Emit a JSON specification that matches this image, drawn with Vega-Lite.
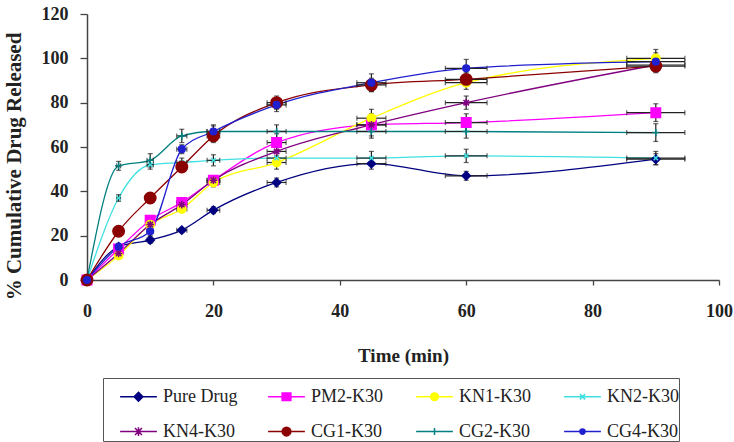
{
  "$schema": "https://vega.github.io/schema/vega-lite/v6.json",
  "width": 632,
  "height": 266,
  "autosize": {"type": "none"},
  "padding": {"left": 87, "top": 14, "right": 15, "bottom": 162},
  "background": "white",
  "config": {
    "view": {"stroke": null},
    "axis": {
      "grid": false,
      "labelFlush": false,
      "domainColor": "#444",
      "domainWidth": 1.5,
      "tickColor": "#444",
      "tickWidth": 1.3,
      "labelFont": "Liberation Serif",
      "labelFontWeight": "bold",
      "labelFontSize": 18,
      "labelColor": "#222",
      "titleFont": "Liberation Serif",
      "titleFontWeight": "bold",
      "titleColor": "#222"
    }
  },
  "data": {
    "values": [
      {"series": "Pure Drug", "t": 0, "y": 0, "ye": 0, "xe": 0},
      {"series": "Pure Drug", "t": 5, "y": 15, "ye": 1, "xe": 0.3},
      {"series": "Pure Drug", "t": 10, "y": 18, "ye": 1.5, "xe": 0.5},
      {"series": "Pure Drug", "t": 15, "y": 22.5, "ye": 1, "xe": 0.8},
      {"series": "Pure Drug", "t": 20, "y": 31.5, "ye": 1.5, "xe": 1},
      {"series": "Pure Drug", "t": 30, "y": 44, "ye": 2, "xe": 1.5},
      {"series": "Pure Drug", "t": 45, "y": 52.5, "ye": 2.5, "xe": 2.3},
      {"series": "Pure Drug", "t": 60, "y": 47, "ye": 2, "xe": 3.3},
      {"series": "Pure Drug", "t": 90, "y": 54.5, "ye": 2.5, "xe": 4.6},
      {"series": "PM2-K30", "t": 0, "y": 0, "ye": 0, "xe": 0},
      {"series": "PM2-K30", "t": 5, "y": 14, "ye": 1.5, "xe": 0.3},
      {"series": "PM2-K30", "t": 10, "y": 27, "ye": 2, "xe": 0.5},
      {"series": "PM2-K30", "t": 15, "y": 35, "ye": 1.5, "xe": 0.8},
      {"series": "PM2-K30", "t": 20, "y": 45, "ye": 2, "xe": 1},
      {"series": "PM2-K30", "t": 30, "y": 62, "ye": 4, "xe": 1.5},
      {"series": "PM2-K30", "t": 45, "y": 70, "ye": 5, "xe": 2.3},
      {"series": "PM2-K30", "t": 60, "y": 71, "ye": 4, "xe": 3.3},
      {"series": "PM2-K30", "t": 90, "y": 75.5, "ye": 4, "xe": 4.6},
      {"series": "KN1-K30", "t": 0, "y": 0, "ye": 0, "xe": 0},
      {"series": "KN1-K30", "t": 5, "y": 11, "ye": 1, "xe": 0.3},
      {"series": "KN1-K30", "t": 10, "y": 25, "ye": 2, "xe": 0.5},
      {"series": "KN1-K30", "t": 15, "y": 32, "ye": 1.5, "xe": 0.8},
      {"series": "KN1-K30", "t": 20, "y": 44, "ye": 2, "xe": 1},
      {"series": "KN1-K30", "t": 30, "y": 53, "ye": 3, "xe": 1.5},
      {"series": "KN1-K30", "t": 45, "y": 73, "ye": 4, "xe": 2.3},
      {"series": "KN1-K30", "t": 60, "y": 89, "ye": 3, "xe": 3.3},
      {"series": "KN1-K30", "t": 90, "y": 100, "ye": 4, "xe": 4.6},
      {"series": "KN2-K30", "t": 0, "y": 0, "ye": 0, "xe": 0},
      {"series": "KN2-K30", "t": 5, "y": 37, "ye": 1.5, "xe": 0.3},
      {"series": "KN2-K30", "t": 10, "y": 52, "ye": 2, "xe": 0.5},
      {"series": "KN2-K30", "t": 15, "y": 53, "ye": 2, "xe": 0.8},
      {"series": "KN2-K30", "t": 20, "y": 54, "ye": 2.5, "xe": 1},
      {"series": "KN2-K30", "t": 30, "y": 55, "ye": 3, "xe": 1.5},
      {"series": "KN2-K30", "t": 45, "y": 55, "ye": 3, "xe": 2.3},
      {"series": "KN2-K30", "t": 60, "y": 56, "ye": 3, "xe": 3.3},
      {"series": "KN2-K30", "t": 90, "y": 55, "ye": 3, "xe": 4.6},
      {"series": "KN4-K30", "t": 0, "y": 0, "ye": 0, "xe": 0},
      {"series": "KN4-K30", "t": 5, "y": 12, "ye": 1.5, "xe": 0.3},
      {"series": "KN4-K30", "t": 10, "y": 25, "ye": 2, "xe": 0.5},
      {"series": "KN4-K30", "t": 15, "y": 34, "ye": 2, "xe": 0.8},
      {"series": "KN4-K30", "t": 20, "y": 45, "ye": 2, "xe": 1},
      {"series": "KN4-K30", "t": 30, "y": 58, "ye": 3, "xe": 1.5},
      {"series": "KN4-K30", "t": 45, "y": 70, "ye": 3, "xe": 2.3},
      {"series": "KN4-K30", "t": 60, "y": 80, "ye": 3, "xe": 3.3},
      {"series": "KN4-K30", "t": 90, "y": 97, "ye": 3, "xe": 4.6},
      {"series": "CG1-K30", "t": 0, "y": 0, "ye": 0, "xe": 0},
      {"series": "CG1-K30", "t": 5, "y": 22, "ye": 1.5, "xe": 0.3},
      {"series": "CG1-K30", "t": 10, "y": 37, "ye": 1.5, "xe": 0.5},
      {"series": "CG1-K30", "t": 15, "y": 51, "ye": 2, "xe": 0.8},
      {"series": "CG1-K30", "t": 20, "y": 65, "ye": 3, "xe": 1},
      {"series": "CG1-K30", "t": 30, "y": 80, "ye": 3, "xe": 1.5},
      {"series": "CG1-K30", "t": 45, "y": 88, "ye": 3, "xe": 2.3},
      {"series": "CG1-K30", "t": 60, "y": 90.5, "ye": 3, "xe": 3.3},
      {"series": "CG1-K30", "t": 90, "y": 96.5, "ye": 3, "xe": 4.6},
      {"series": "CG2-K30", "t": 0, "y": 0, "ye": 0, "xe": 0},
      {"series": "CG2-K30", "t": 5, "y": 51.5, "ye": 2, "xe": 0.3},
      {"series": "CG2-K30", "t": 10, "y": 54, "ye": 3, "xe": 0.5},
      {"series": "CG2-K30", "t": 15, "y": 65, "ye": 3, "xe": 0.8},
      {"series": "CG2-K30", "t": 20, "y": 67, "ye": 3, "xe": 1},
      {"series": "CG2-K30", "t": 30, "y": 67, "ye": 3, "xe": 1.5},
      {"series": "CG2-K30", "t": 45, "y": 67, "ye": 3, "xe": 2.3},
      {"series": "CG2-K30", "t": 60, "y": 67, "ye": 3, "xe": 3.3},
      {"series": "CG2-K30", "t": 90, "y": 66.5, "ye": 4, "xe": 4.6},
      {"series": "CG4-K30", "t": 0, "y": 0, "ye": 0, "xe": 0},
      {"series": "CG4-K30", "t": 5, "y": 15, "ye": 1.5, "xe": 0.3},
      {"series": "CG4-K30", "t": 10, "y": 22, "ye": 2, "xe": 0.5},
      {"series": "CG4-K30", "t": 15, "y": 59, "ye": 2, "xe": 0.8},
      {"series": "CG4-K30", "t": 20, "y": 67, "ye": 2.5, "xe": 1},
      {"series": "CG4-K30", "t": 30, "y": 79, "ye": 3, "xe": 1.5},
      {"series": "CG4-K30", "t": 45, "y": 89, "ye": 4, "xe": 2.3},
      {"series": "CG4-K30", "t": 60, "y": 95.5, "ye": 4, "xe": 3.3},
      {"series": "CG4-K30", "t": 90, "y": 98.5, "ye": 4, "xe": 4.6}
    ]
  },
  "encoding": {
    "x": {
      "field": "t",
      "type": "quantitative",
      "scale": {"domain": [0, 100], "nice": false, "zero": false},
      "axis": {
        "values": [0, 20, 40, 60, 80, 100],
        "tickSize": 5,
        "labelPadding": 17,
        "title": "Time (min)",
        "titleFontSize": 19,
        "titleBaseline": "alphabetic",
        "titleY": 81
      }
    },
    "y": {
      "field": "y",
      "type": "quantitative",
      "scale": {"domain": [0, 120], "nice": false},
      "axis": {
        "values": [0, 20, 40, 60, 80, 100, 120],
        "tickSize": 7,
        "labelPadding": 12,
        "title": "% Cumulative Drug Released",
        "titleFontSize": 21,
        "titleBaseline": "alphabetic",
        "titleAngle": -90,
        "titleX": -67,
        "titleY": 152,
        "titleAlign": "center"
      }
    },
    "color": {
      "field": "series",
      "type": "nominal",
      "scale": {
        "domain": ["Pure Drug", "PM2-K30", "KN1-K30", "KN2-K30", "KN4-K30", "CG1-K30", "CG2-K30", "CG4-K30"],
        "range": ["#000080", "#FF00FF", "#FFFF00", "#40E0E0", "#800080", "#8B0000", "#008080", "#2020D0"]
      },
      "legend": {
        "orient": "none",
        "direction": "horizontal",
        "legendX": 16,
        "legendY": 364,
        "title": null,
        "columns": 4,
        "gridAlign": "all",
        "columnPadding": 13,
        "rowPadding": 7,
        "symbolSize": 1225,
        "symbolOffset": 17,
        "labelOffset": 6,
        "labelFont": "Liberation Serif",
        "labelFontSize": 18,
        "labelColor": "#222",
        "padding": 0,
        "strokeColor": "#555",
        "fillColor": "white",
        "symbolStrokeWidth": 1.5,
        "encode": {
          "symbols": {
            "update": {
              "fill": {"signal": "scale('color', datum.value)"},
              "stroke": {"signal": "scale('color', datum.value)"},
              "strokeWidth": {"value": 1.5},
              "opacity": {"value": 1},
              "size": {"value": 1225},
              "shape": {
                "signal": "datum.value === 'Pure Drug' ? 'M-1.05,0L1.05,0M0,-0.25L0.25,0L0,0.25L-0.25,0Z' : datum.value === 'PM2-K30' ? 'M-1.05,0L1.05,0M-0.25,-0.22L0.25,-0.22L0.25,0.22L-0.25,0.22Z' : datum.value === 'KN1-K30' ? 'M-1.05,0L1.05,0M-0.22,0A0.22,0.22,0,1,1,0.22,0A0.22,0.22,0,1,1,-0.22,0Z' : datum.value === 'KN2-K30' ? 'M-1.05,0L1.05,0M-0.15,-0.15L0.15,0.15M-0.15,0.15L0.15,-0.15' : datum.value === 'KN4-K30' ? 'M-1.05,0L1.05,0M-0.2,-0.2L0.2,0.2M-0.2,0.2L0.2,-0.2M0,-0.25L0,0.25' : datum.value === 'CG1-K30' ? 'M-1.05,0L1.05,0M-0.25,0A0.25,0.25,0,1,1,0.25,0A0.25,0.25,0,1,1,-0.25,0Z' : datum.value === 'CG2-K30' ? 'M-1.05,0L1.05,0M0,-0.2L0,0.2' : 'M-1.05,0L1.05,0M-0.15,0A0.15,0.15,0,1,1,0.15,0A0.15,0.15,0,1,1,-0.15,0Z'"
              }
            }
          }
        }
      }
    }
  },
  "layer": [
    {
      "mark": {"type": "line", "interpolate": "monotone", "strokeWidth": 1.3}
    },
    {
      "mark": {"type": "errorbar", "ticks": true, "thickness": 1.2},
      "encoding": {"yError": {"field": "ye"}, "color": {"value": "#222"}}
    },
    {
      "mark": {"type": "errorbar", "ticks": true, "thickness": 1.2},
      "encoding": {"xError": {"field": "xe"}, "color": {"value": "#222"}}
    },
    {
      "mark": {"type": "point", "filled": true, "opacity": 1, "strokeWidth": 1.5},
      "encoding": {
        "stroke": {
          "field": "series",
          "type": "nominal",
          "sort": ["Pure Drug", "PM2-K30", "KN1-K30", "KN2-K30", "KN4-K30", "CG1-K30", "CG2-K30", "CG4-K30"],
          "scale": {
            "range": ["#000080", "#FF00FF", "#FFFF00", "#40E0E0", "#800080", "#8B0000", "#008080", "#2020D0"]
          },
          "legend": null
        },
        "shape": {
          "field": "series",
          "type": "nominal",
          "sort": ["Pure Drug", "PM2-K30", "KN1-K30", "KN2-K30", "KN4-K30", "CG1-K30", "CG2-K30", "CG4-K30"],
          "scale": {
            "range": ["diamond", "square", "circle", "M-0.7,-0.7L0.7,0.7M-0.7,0.7L0.7,-0.7", "M-1,0L1,0M0,-1L0,1M-0.7,-0.7L0.7,0.7M-0.7,0.7L0.7,-0.7", "circle", "M-1,0L1,0M0,-1L0,1", "circle"]
          },
          "legend": null
        },
        "size": {
          "field": "series",
          "type": "nominal",
          "sort": ["Pure Drug", "PM2-K30", "KN1-K30", "KN2-K30", "KN4-K30", "CG1-K30", "CG2-K30", "CG4-K30"],
          "scale": {
            "type": "ordinal",
            "range": [70, 90, 70, 40, 60, 130, 50, 45]
          },
          "legend": null
        }
      }
    }
  ]
}
